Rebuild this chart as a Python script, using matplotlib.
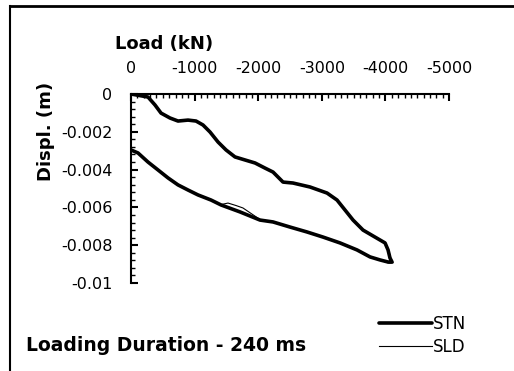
import matplotlib
matplotlib.use("Agg")
import matplotlib.pyplot as plt
from matplotlib.lines import Line2D
from matplotlib.ticker import MultipleLocator

plt.rcParams['font.family'] = ['DejaVu Sans']
plt.rcParams['axes.unicode_minus'] = False

# STN (thick) - load in kN, displacement in m
load_stn = [0, -267, -377, -472, -613, -739, -896, -1022, -1132, -1242, -1368,
            -1494, -1635, -1792, -1950, -2107, -2233, -2390, -2547, -2814, -3082,
            -3239, -3365, -3491, -3648, -3836, -3994, -4041, -4072, -4104,
            -4041, -3915, -3758, -3553, -3286, -3019, -2767, -2500, -2233, -2028,
            -1714, -1415, -1258, -1053, -896, -739, -582, -425, -267, -110, 0]
disp_stn = [0, -0.00016, -0.00058, -0.00101, -0.00127, -0.00143, -0.00138, -0.00143,
            -0.00164, -0.00201, -0.00254, -0.00296, -0.00333, -0.00349, -0.00365,
            -0.00392, -0.00413, -0.00466, -0.00471, -0.00492, -0.00524, -0.00561,
            -0.00614, -0.00667, -0.0072, -0.00757, -0.00788, -0.00825, -0.00868,
            -0.00889,
            -0.00889, -0.00878, -0.00862, -0.00825, -0.00788, -0.00757, -0.0073,
            -0.00704, -0.00677, -0.00667, -0.00624, -0.00587, -0.00561, -0.00534,
            -0.00508, -0.00481, -0.00444, -0.00402, -0.0036, -0.00312, -0.00296]

# SLD (thin)
load_sld = [0, -270, -380, -475, -615, -740, -900, -1025, -1135, -1245, -1370,
            -1497, -1638, -1795, -1953, -2110, -2236, -2393, -2550, -2817, -3085,
            -3242, -3368, -3494, -3651, -3839, -3997, -4050, -4085, -4120,
            -4060, -3915, -3758, -3553, -3286, -3019, -2767, -2500, -2233, -2028,
            -1760, -1650, -1525, -1415, -1258, -1053, -896, -739, -582, -425,
            -267, -110, 0]
disp_sld = [0, -0.00017, -0.00059, -0.00102, -0.00128, -0.00144, -0.00139, -0.00144,
            -0.00165, -0.00202, -0.00255, -0.00297, -0.00334, -0.0035, -0.00366,
            -0.00393, -0.00414, -0.00467, -0.00472, -0.00493, -0.00525, -0.00562,
            -0.00615, -0.00668, -0.00721, -0.00758, -0.00789, -0.00826, -0.0087,
            -0.00893,
            -0.00895, -0.00879, -0.00863, -0.00826, -0.00789, -0.00758, -0.00731,
            -0.00705, -0.00678, -0.00664, -0.00603, -0.0059, -0.00577, -0.00585,
            -0.00562, -0.00535, -0.00509, -0.00482, -0.00445, -0.00403, -0.00361,
            -0.00313, -0.00297]

fig = plt.figure(figsize=(5.14, 3.71), dpi=100)
ax = fig.add_axes([0.2549, 0.2372, 0.6187, 0.5094])

ax.plot(load_stn, disp_stn, color='black', linewidth=2.6, label='STN',
        solid_joinstyle='round', solid_capstyle='round')
ax.plot(load_sld, disp_sld, color='black', linewidth=0.8, label='SLD')

ax.set_xlim(0, -5000)
ax.set_ylim(-0.01, 0)
ax.xaxis.set_major_locator(MultipleLocator(1000))
ax.xaxis.set_minor_locator(MultipleLocator(100))
ax.yaxis.set_major_locator(MultipleLocator(0.002))
ax.yaxis.set_minor_locator(MultipleLocator(0.0004))
ax.yaxis.set_major_formatter(plt.FuncFormatter(lambda v, p: '0' if abs(v) < 1e-9 else ('%g' % v)))

ax.xaxis.tick_top()
ax.xaxis.set_label_position('top')
for s in ['right', 'bottom']:
    ax.spines[s].set_visible(False)
ax.spines['top'].set_linewidth(1.5)
ax.spines['left'].set_linewidth(1.5)
ax.tick_params(axis='both', which='major', direction='in', length=5, width=1.5,
               labelsize=11.5)
ax.tick_params(axis='both', which='minor', direction='in', length=3, width=1)
ax.tick_params(axis='x', which='major', pad=13)
ax.tick_params(axis='y', which='major', pad=13.5)

ax.set_xlabel('Load (kN)', fontsize=13, fontweight='bold')
ax.xaxis.set_label_coords(-0.05, 1.215)
ax.xaxis.label.set_horizontalalignment('left')
ax.xaxis.label.set_verticalalignment('bottom')
ax.set_ylabel('Displ. (m)', fontsize=13, fontweight='bold')
ax.yaxis.set_label_coords(-0.24, 0.8)

fig.text(0.05, 0.07, 'Loading Duration - 240 ms', fontsize=13.5, fontweight='bold',
         va='center', ha='left')

ax.legend(loc='upper left', bbox_to_anchor=(0.78, -0.17), frameon=False,
          fontsize=12, handlelength=3.2, handletextpad=0.05, labelspacing=0.3,
          borderaxespad=0, borderpad=0)

# outer frame (top and left edges)
fig.add_artist(Line2D([0.019, 1.0], [0.985, 0.985], transform=fig.transFigure,
                      color='black', linewidth=2))
fig.add_artist(Line2D([0.019, 0.019], [0.0, 0.985], transform=fig.transFigure,
                      color='black', linewidth=1.5))

fig.savefig('out.png', dpi=100)
